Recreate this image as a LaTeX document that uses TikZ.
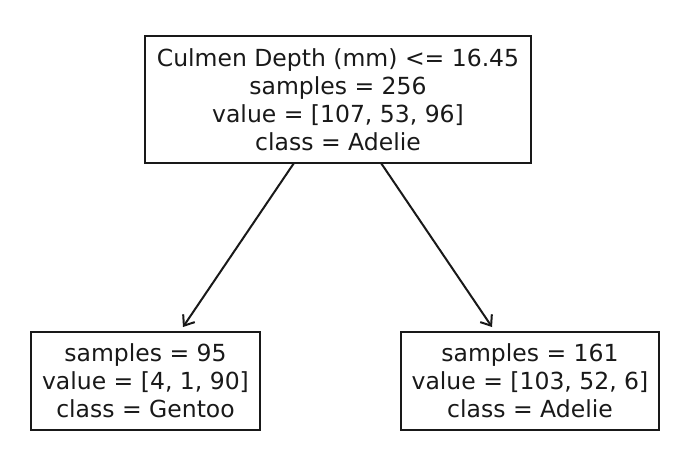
\documentclass[tikz,border=0pt]{standalone}
\usepackage{fontspec}
\setmainfont{DejaVu Sans}
\usetikzlibrary{arrows.meta}
\begin{document}
\begin{tikzpicture}[x=1pt,y=-1pt,
  treenode/.style={draw=black!90,line width=2pt,align=center,inner sep=0pt,
    font=\fontsize{23.5}{28}\selectfont,text=black!90},
  edge/.style={line width=2pt,draw=black!90,-{Straight Barb[length=9pt,width=14pt,line width=2pt]}}]
\useasboundingbox (0,0) rectangle (690,464);
\node[treenode,minimum width=386pt,minimum height=127pt] (root) at (338,99.5)
  {Culmen Depth (mm) <= 16.45\\samples = 256\\value = [107, 53, 96]\\class = Adelie};
\node[treenode,minimum width=229pt,minimum height=98pt] (left) at (145.5,381)
  {samples = 95\\value = [4, 1, 90]\\class = Gentoo};
\node[treenode,minimum width=258pt,minimum height=98pt] (right) at (530,381)
  {samples = 161\\value = [103, 52, 6]\\class = Adelie};
\coordinate (la) at (294,163);
\coordinate (ra) at (381,163);
\coordinate (lb) at (183,327);
\coordinate (rb) at (492,327);
\draw[edge] (la) -- (lb);
\draw[edge] (ra) -- (rb);
\end{tikzpicture}
\end{document}
